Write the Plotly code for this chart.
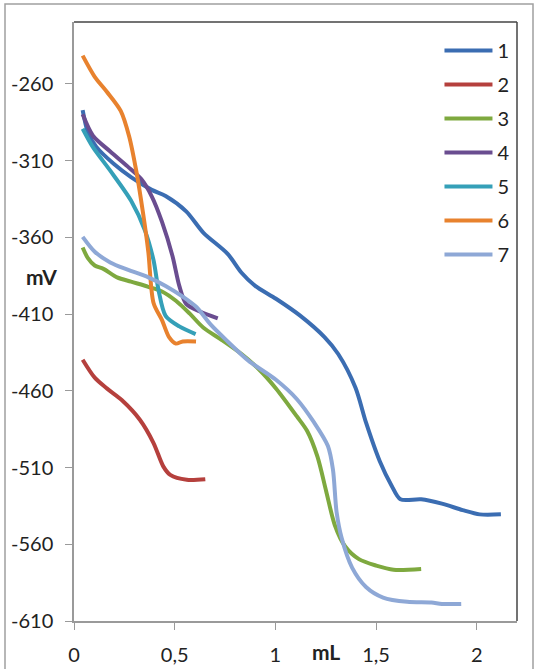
import plotly.graph_objects as go

# ---- data (mL, mV) ----
x1 = [0.043, 0.069, 0.111, 0.197, 0.283, 0.386, 0.455, 0.557, 0.643, 0.763, 0.832, 0.900, 1.003, 1.123, 1.244, 1.312, 1.398, 1.450, 1.518, 1.578, 1.621, 1.724, 1.827, 1.930, 2.015, 2.120]
y1 = [-277, -291.4, -301, -312, -320.7, -329, -333, -343, -357, -370.7, -383, -391.6, -400, -411, -425, -436, -458, -480.6, -505.7, -522, -530.7, -530.7, -533.5, -537.7, -540.5, -540.5]

x2 = [0.043, 0.103, 0.163, 0.237, 0.328, 0.395, 0.444, 0.478, 0.560, 0.652]
y2 = [-439.7, -451.4, -458.4, -466, -479, -494, -509.4, -514.8, -518, -517.6]

x3 = [0.043, 0.069, 0.103, 0.146, 0.214, 0.283, 0.369, 0.437, 0.506, 0.575, 0.643, 0.729, 0.832, 0.918, 1.003, 1.106, 1.158, 1.209, 1.252, 1.295, 1.346, 1.415, 1.501, 1.587, 1.724]
y3 = [-366.6, -373.5, -378.3, -380.5, -386, -388.8, -392.2, -395.2, -401.3, -409.7, -418.9, -426.4, -436, -445.9, -458.4, -476.5, -486.2, -502.9, -525.2, -547.4, -561.3, -569.7, -573.9, -576.6, -576.1]

x4 = [0.043, 0.094, 0.180, 0.266, 0.334, 0.386, 0.437, 0.489, 0.523, 0.557, 0.626, 0.714]
y4 = [-279.8, -293.7, -304, -313.7, -322, -333.2, -349.9, -372.1, -391.6, -403.3, -408.3, -412.8]

x5 = [0.043, 0.094, 0.180, 0.283, 0.352, 0.395, 0.420, 0.455, 0.523, 0.604]
y5 = [-289.2, -301.2, -316.5, -336, -355.4, -374.9, -394.4, -411.1, -418, -423]

x6 = [0.043, 0.103, 0.163, 0.232, 0.274, 0.309, 0.343, 0.369, 0.395, 0.437, 0.472, 0.506, 0.540, 0.606]
y6 = [-241.5, -255.3, -265, -277.5, -294.2, -316.5, -344.3, -369.3, -402.7, -413.9, -425, -429.2, -427.8, -427.8]

x7 = [0.043, 0.103, 0.180, 0.266, 0.369, 0.455, 0.540, 0.609, 0.678, 0.763, 0.866, 1.003, 1.106, 1.192, 1.261, 1.286, 1.304, 1.329, 1.381, 1.450, 1.535, 1.655, 1.775, 1.827, 1.923]
y7 = [-359.6, -369.3, -376.3, -381, -386, -391.6, -398.6, -405.5, -416.7, -427.8, -440.3, -452.8, -465.3, -480.6, -496, -511.3, -539, -555.8, -575.2, -587.8, -594.7, -597.5, -598, -598.9, -598.9]

names = ["1", "2", "3", "4", "5", "6", "7"]
colors = ["#3B6DB2", "#B5403D", "#7EA93F", "#6A4D90", "#35A0B8", "#E8822E", "#8EA8D6"]

x_ticks = [0, 0.5, 1, 1.5, 2]
x_tick_text = ["0", "0,5", "1", "1,5", "2"]
y_ticks = [-610, -560, -510, -460, -410, -360, -310, -260]
y_tick_text = ["-610", "-560", "-510", "-460", "-410", "-360", "-310", "-260"]

fig = go.Figure()
for xs, ys, nm, col in zip([x1, x2, x3, x4, x5, x6, x7],
                           [y1, y2, y3, y4, y5, y6, y7], names, colors):
    fig.add_trace(go.Scatter(x=xs, y=ys, name=nm, mode="lines", legendgroup=nm,
                             line=dict(color=col, width=4, shape="spline", smoothing=0.8)))

font_family = "Lato, 'Liberation Sans', Arial, sans-serif"

fig.update_layout(
    width=541, height=669,
    margin=dict(l=74, r=24, t=22, b=48),
    paper_bgcolor="white", plot_bgcolor="white",
    font=dict(family=font_family, size=20, color="#222"),
    showlegend=True,
    legend=dict(x=0.825, y=0.985, xanchor="left", yanchor="top",
                font=dict(size=20, color="#222"), tracegroupgap=5,
                bgcolor="rgba(0,0,0,0)", itemwidth=48),
    xaxis=dict(range=[0, 2.2], tickvals=x_ticks, ticktext=x_tick_text, automargin=False,
               showgrid=False, zeroline=False, showline=True, linecolor="#9a9a9a", linewidth=1.5,
               ticks="outside", ticklen=7, tickcolor="#9a9a9a", ticklabelstandoff=8),
    yaxis=dict(range=[-610, -219.6], tickvals=y_ticks, ticktext=y_tick_text, automargin=False,
               showgrid=False, zeroline=False, showline=True, linecolor="#9a9a9a", linewidth=1.5,
               ticks="outside", ticklen=7, tickcolor="#9a9a9a", ticklabelstandoff=8),
    annotations=[
        dict(text="<b>mV</b>", x=(41 - 74) / 443, y=(621 - 276) / 599, xref="paper", yref="paper",
             xanchor="center", yanchor="middle",
             showarrow=False, font=dict(size=21, color="#222")),
        dict(text="<b>mL</b>", x=(326 - 74) / 443, y=-(651 - 621) / 599, xref="paper", yref="paper",
             xanchor="center", yanchor="middle",
             showarrow=False, font=dict(size=21, color="#222")),
    ],
    shapes=[
        # plot area border (top and right)
        dict(type="line", xref="paper", yref="paper", x0=0, x1=1, y0=1, y1=1,
             line=dict(color="#444", width=1.5)),
        dict(type="line", xref="paper", yref="paper", x0=1, x1=1, y0=0, y1=1,
             line=dict(color="#444", width=1.5)),
        # outer chart frame
        dict(type="rect", xref="paper", yref="paper",
             x0=(5 - 74) / 443, x1=(533 - 74) / 443, y0=(621 - 675) / 599, y1=(621 - 4) / 599,
             line=dict(color="#a0a0a0", width=1.5)),
    ],
)

fig.write_html("out.html", config={"displayModeBar": False},
               post_script="document.body.style.margin='0';")
